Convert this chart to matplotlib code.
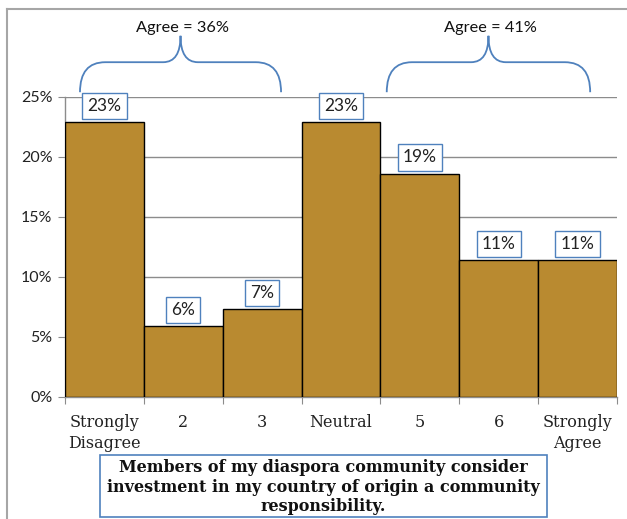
import matplotlib
matplotlib.use("Agg")
import matplotlib.pyplot as plt
from matplotlib.path import Path
from matplotlib.patches import PathPatch, Rectangle
from matplotlib.lines import Line2D
from matplotlib.ticker import PercentFormatter, FixedLocator

# Response shares (percent) on the 7-point scale
categories = ["Strongly\nDisagree", "2", "3", "Neutral", "5", "6", "Strongly\nAgree"]
shares = [22.9, 5.9, 7.3, 22.9, 18.6, 11.4, 11.4]

# Grouped agreement totals shown above the bars
group_labels = ["Agree = 36%", "Agree = 41%"]
group_spans = [(-0.31, 2.24), (3.58, 6.16)]

title = ("Members of my diaspora community consider\n"
         "investment in my country of origin a community\n"
         "responsibility.")

bar_color = "#B98A30"
blue = "#4F81BD"
grid_gray = "#8C8C8C"

W, H = 627, 519
fig = plt.figure(figsize=(W / 100, H / 100), dpi=100)
ax = fig.add_axes([65 / W, 1 - 397 / H, 552 / W, 300 / H])

x = list(range(len(categories)))
ax.bar(x, shares, width=1.0, color=bar_color, edgecolor="black", linewidth=1.0, zorder=3)

ax.set_xlim(-0.5, len(categories) - 0.5)
ax.set_ylim(0, 25)
ax.yaxis.set_major_locator(FixedLocator([0, 5, 10, 15, 20, 25]))
ax.yaxis.set_major_formatter(PercentFormatter(decimals=0))
ax.grid(axis="y", color=grid_gray, linewidth=1.0, zorder=0)
ax.set_axisbelow(True)

for s in ("top", "right"):
    ax.spines[s].set_visible(False)
for s in ("left", "bottom"):
    ax.spines[s].set_color(grid_gray)
    ax.spines[s].set_linewidth(1.0)

# category labels between boundary tick marks
ax.set_xticks([i - 0.5 for i in range(len(categories) + 1)])
ax.set_xticklabels([])
ax.set_xticks(x, minor=True)
ax.set_xticklabels(categories, minor=True, fontfamily="DejaVu Serif", fontsize=11.5,
                   color="#222222", linespacing=1.3)
ax.tick_params(axis="x", which="major", length=5, color=grid_gray, direction="out")
ax.tick_params(axis="x", which="minor", length=0, pad=12)
ax.tick_params(axis="y", length=5, color=grid_gray, pad=4, labelsize=11.5, labelcolor="#222222")
for lab in ax.get_yticklabels():
    lab.set_fontfamily("Lato")

# value boxes above each bar
for xi, v in zip(x, shares):
    ax.annotate(f"{v:.0f}%", (xi, v), xytext=(0, 6), textcoords="offset points",
                ha="center", va="bottom", fontsize=12.5, fontfamily="Lato", color="#222222",
                bbox=dict(boxstyle="square,pad=0.3", fc="white", ec=blue, lw=1.0),
                zorder=5, annotation_clip=False)


def brace(axis, x0, x1, y_end=25.4, y_mid=27.9, y_top=30.1, r_end=0.32, r_mid=0.22):
    xm = (x0 + x1) / 2
    verts = [
        (x0, y_end), (x0, y_mid), (x0 + r_end, y_mid),
        (xm - r_mid, y_mid),
        (xm, y_mid), (xm, y_top),
        (xm, y_mid), (xm + r_mid, y_mid),
        (x1 - r_end, y_mid),
        (x1, y_mid), (x1, y_end),
    ]
    codes = [Path.MOVETO, Path.CURVE3, Path.CURVE3, Path.LINETO,
             Path.CURVE3, Path.CURVE3, Path.CURVE3, Path.CURVE3,
             Path.LINETO, Path.CURVE3, Path.CURVE3]
    patch = PathPatch(Path(verts, codes), fc="none", ec=blue, lw=1.3, clip_on=False, zorder=4)
    axis.add_patch(patch)
    return xm


for (a, b), lbl in zip(group_spans, group_labels):
    xm = brace(ax, a, b)
    ax.text(xm + 0.03, 30.75, lbl, ha="center", va="center", fontsize=11.8,
            fontfamily="Lato", color="#111111", clip_on=False)

# title box under the axis
fig.add_artist(Rectangle((100 / W, 1 - 517 / H), 447 / W, 62 / H, transform=fig.transFigure,
                         fc="white", ec=blue, lw=1.2))
fig.text(323 / W, 1 - 487 / H, title, ha="center", va="center",
         fontfamily="DejaVu Serif", fontweight="bold", fontsize=11.5, linespacing=1.2,
         color="#111111")

# outer chart frame (top and left edges)
fig.add_artist(Line2D([7 / W, 1.0], [1 - 9 / H, 1 - 9 / H], color="#A6A6A6", lw=1.5))
fig.add_artist(Line2D([7 / W, 7 / W], [0, 1 - 9 / H], color="#A6A6A6", lw=1.5))

fig.savefig("out.png", dpi=100)
